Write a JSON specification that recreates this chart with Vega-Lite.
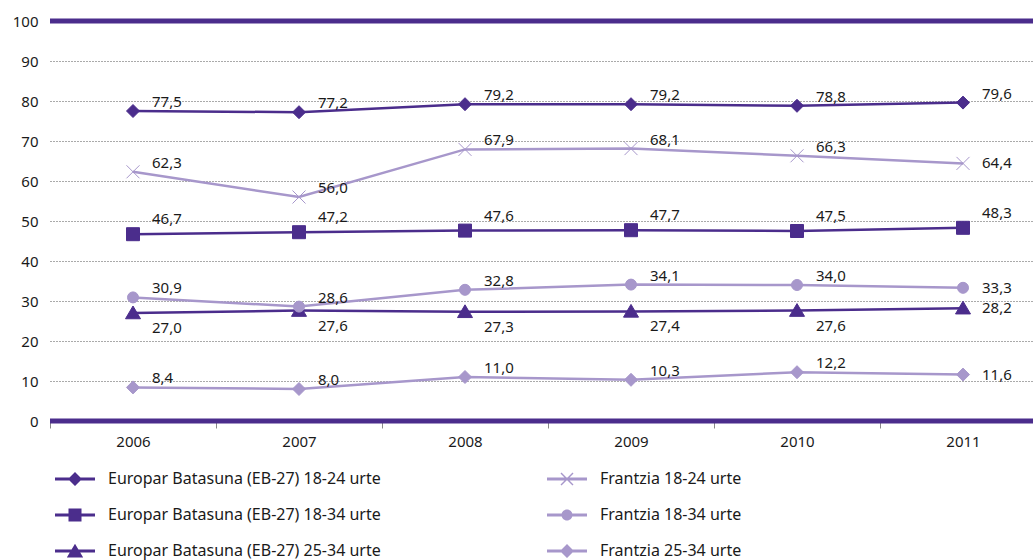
{
  "$schema": "https://vega.github.io/schema/vega-lite/v6.json",
  "width": 983,
  "height": 400,
  "autosize": {"type": "none"},
  "padding": {"left": 50, "top": 21, "right": 0, "bottom": 139},
  "config": {
    "locale": {"number": {"decimal": ",", "thousands": ".", "grouping": [3], "currency": ["", " €"]}},
    "view": {"stroke": null},
    "font": "Noto Sans"
  },
  "data": {
    "values": [
      {"s": "Europar Batasuna (EB-27) 18-24 urte", "year": 2006, "value": 77.5},
      {"s": "Europar Batasuna (EB-27) 18-24 urte", "year": 2007, "value": 77.2},
      {"s": "Europar Batasuna (EB-27) 18-24 urte", "year": 2008, "value": 79.2},
      {"s": "Europar Batasuna (EB-27) 18-24 urte", "year": 2009, "value": 79.2},
      {"s": "Europar Batasuna (EB-27) 18-24 urte", "year": 2010, "value": 78.8},
      {"s": "Europar Batasuna (EB-27) 18-24 urte", "year": 2011, "value": 79.6},
      {"s": "Europar Batasuna (EB-27) 18-34 urte", "year": 2006, "value": 46.7},
      {"s": "Europar Batasuna (EB-27) 18-34 urte", "year": 2007, "value": 47.2},
      {"s": "Europar Batasuna (EB-27) 18-34 urte", "year": 2008, "value": 47.6},
      {"s": "Europar Batasuna (EB-27) 18-34 urte", "year": 2009, "value": 47.7},
      {"s": "Europar Batasuna (EB-27) 18-34 urte", "year": 2010, "value": 47.5},
      {"s": "Europar Batasuna (EB-27) 18-34 urte", "year": 2011, "value": 48.3},
      {"s": "Europar Batasuna (EB-27) 25-34 urte", "year": 2006, "value": 27.0},
      {"s": "Europar Batasuna (EB-27) 25-34 urte", "year": 2007, "value": 27.6},
      {"s": "Europar Batasuna (EB-27) 25-34 urte", "year": 2008, "value": 27.3},
      {"s": "Europar Batasuna (EB-27) 25-34 urte", "year": 2009, "value": 27.4},
      {"s": "Europar Batasuna (EB-27) 25-34 urte", "year": 2010, "value": 27.6},
      {"s": "Europar Batasuna (EB-27) 25-34 urte", "year": 2011, "value": 28.2},
      {"s": "Frantzia 18-24 urte", "year": 2006, "value": 62.3},
      {"s": "Frantzia 18-24 urte", "year": 2007, "value": 56.0},
      {"s": "Frantzia 18-24 urte", "year": 2008, "value": 67.9},
      {"s": "Frantzia 18-24 urte", "year": 2009, "value": 68.1},
      {"s": "Frantzia 18-24 urte", "year": 2010, "value": 66.3},
      {"s": "Frantzia 18-24 urte", "year": 2011, "value": 64.4},
      {"s": "Frantzia 18-34 urte", "year": 2006, "value": 30.9},
      {"s": "Frantzia 18-34 urte", "year": 2007, "value": 28.6},
      {"s": "Frantzia 18-34 urte", "year": 2008, "value": 32.8},
      {"s": "Frantzia 18-34 urte", "year": 2009, "value": 34.1},
      {"s": "Frantzia 18-34 urte", "year": 2010, "value": 34.0},
      {"s": "Frantzia 18-34 urte", "year": 2011, "value": 33.3},
      {"s": "Frantzia 25-34 urte", "year": 2006, "value": 8.4},
      {"s": "Frantzia 25-34 urte", "year": 2007, "value": 8.0},
      {"s": "Frantzia 25-34 urte", "year": 2008, "value": 11.0},
      {"s": "Frantzia 25-34 urte", "year": 2009, "value": 10.3},
      {"s": "Frantzia 25-34 urte", "year": 2010, "value": 12.2},
      {"s": "Frantzia 25-34 urte", "year": 2011, "value": 11.6}
    ]
  },
  "encoding": {
    "x": {
      "field": "year", "type": "ordinal",
      "scale": {"type": "band", "paddingInner": 0, "paddingOuter": 0, "range": [0, 996]},
      "axis": {"title": null, "labelAngle": 0, "domain": false, "tickBand": "extent", "tickSize": 7, "tickColor": "#888888", "labelFontSize": 15, "labelColor": "#1a1a1a", "labelPadding": 6, "grid": false}
    },
    "y": {
      "field": "value", "type": "quantitative",
      "scale": {"domain": [0, 100], "nice": false, "zero": true},
      "axis": {"title": null, "values": [0, 10, 20, 30, 40, 50, 60, 70, 80, 90, 100], "domain": false, "ticks": false, "labelPadding": 12, "labelFontSize": 15, "labelColor": "#1a1a1a", "gridDash": [1, 2], "gridColor": "#555555", "gridWidth": 1}
    }
  },
  "layer": [
    {
      "data": {"values": [{"value": 0}, {"value": 100}]},
      "mark": {"type": "rule", "color": "#4b2d8c", "strokeWidth": 5},
      "encoding": {"x": null, "y": {"field": "value", "type": "quantitative"}}
    },
    {
      "mark": {"type": "point", "filled": true, "size": 1, "opacity": 1},
      "encoding": {
        "color": {
          "field": "s", "type": "nominal",
          "scale": {
            "domain": ["Europar Batasuna (EB-27) 18-24 urte", "Europar Batasuna (EB-27) 18-34 urte", "Europar Batasuna (EB-27) 25-34 urte", "Frantzia 18-24 urte", "Frantzia 18-34 urte", "Frantzia 25-34 urte"],
            "range": ["#4b2d8c", "#4b2d8c", "#4b2d8c", "#a797cb", "#a797cb", "#a797cb"]
          },
          "legend": {
            "title": null, "orient": "none", "legendX": 15, "legendY": 448, "columns": 2, "columnPadding": 166, "rowPadding": 18, "padding": 0,
            "symbolSize": 400, "symbolStrokeWidth": 0, "symbolOpacity": 1, "labelFontSize": 16, "labelColor": "#1a1a1a", "labelOffset": 23, "labelLimit": 400
          }
        },
        "shape": {
          "field": "s", "type": "nominal",
          "legend": {"title": null},
          "scale": {
            "domain": ["Europar Batasuna (EB-27) 18-24 urte", "Europar Batasuna (EB-27) 18-34 urte", "Europar Batasuna (EB-27) 25-34 urte", "Frantzia 18-24 urte", "Frantzia 18-34 urte", "Frantzia 25-34 urte"],
            "range": [
              "M-2,-0.15H2V0.15H-2ZM0,-0.7L0.7,0L0,0.7L-0.7,0Z",
              "M-2,-0.15H2V0.15H-2ZM-0.65,-0.65H0.65V0.65H-0.65Z",
              "M-2,-0.15H2V0.15H-2ZM0,-0.72L0.82,0.66L-0.82,0.66Z",
              "M-2,-0.15H2V0.15H-2ZM-0.55,-0.65L0.65,0.55L0.55,0.65L-0.65,-0.55ZM0.65,-0.55L-0.55,0.65L-0.65,0.55L0.55,-0.65Z",
              "M-2,-0.15H2V0.15H-2ZM-0.55,0A0.55,0.55 0 1,1 0.55,0A0.55,0.55 0 1,1 -0.55,0Z",
              "M-2,-0.15H2V0.15H-2ZM0,-0.7L0.7,0L0,0.7L-0.7,0Z"
            ]
          }
        }
      }
    },
    {
      "mark": {"type": "line", "strokeWidth": 2.5},
      "encoding": {
        "stroke": {
          "field": "s", "type": "nominal", "legend": null,
          "scale": {
            "domain": ["Europar Batasuna (EB-27) 18-24 urte", "Europar Batasuna (EB-27) 18-34 urte", "Europar Batasuna (EB-27) 25-34 urte", "Frantzia 18-24 urte", "Frantzia 18-34 urte", "Frantzia 25-34 urte"],
            "range": ["#4b2d8c", "#4b2d8c", "#4b2d8c", "#a797cb", "#a797cb", "#a797cb"]
          }
        }
      }
    },
    {
      "transform": [{"filter": "datum.s === 'Europar Batasuna (EB-27) 18-24 urte' || datum.s === 'Frantzia 25-34 urte'"}],
      "mark": {"type": "point", "filled": true, "opacity": 1, "strokeWidth": 1, "size": 100, "shape": "M0,-1.3L1.3,0L0,1.3L-1.3,0Z"},
      "encoding": {"fill": {"field": "s", "type": "nominal", "legend": null}, "stroke": {"field": "s", "type": "nominal", "legend": null}}
    },
    {
      "transform": [{"filter": "datum.s === 'Europar Batasuna (EB-27) 18-34 urte'"}],
      "mark": {"type": "point", "filled": true, "opacity": 1, "strokeWidth": 1, "size": 100, "shape": "M-1.3,-1.3H1.3V1.3H-1.3Z"},
      "encoding": {"fill": {"field": "s", "type": "nominal", "legend": null}, "stroke": {"field": "s", "type": "nominal", "legend": null}}
    },
    {
      "transform": [{"filter": "datum.s === 'Europar Batasuna (EB-27) 25-34 urte'"}],
      "mark": {"type": "point", "filled": true, "opacity": 1, "strokeWidth": 1, "size": 100, "shape": "M0,-1.4L1.5,1.15L-1.5,1.15Z"},
      "encoding": {"fill": {"field": "s", "type": "nominal", "legend": null}, "stroke": {"field": "s", "type": "nominal", "legend": null}}
    },
    {
      "transform": [{"filter": "datum.s === 'Frantzia 18-24 urte'"}],
      "mark": {"type": "point", "filled": false, "opacity": 1, "strokeWidth": 1, "size": 100, "shape": "M-1.3,-1.3L1.3,1.3M-1.3,1.3L1.3,-1.3"},
      "encoding": {"stroke": {"field": "s", "type": "nominal", "legend": null}}
    },
    {
      "transform": [{"filter": "datum.s === 'Frantzia 18-34 urte'"}],
      "mark": {"type": "point", "filled": true, "opacity": 1, "strokeWidth": 1, "size": 100, "shape": "M-1.1,0A1.1,1.1 0 1,1 1.1,0A1.1,1.1 0 1,1 -1.1,0Z"},
      "encoding": {
        "fill": {
          "field": "s", "type": "nominal", "legend": null,
          "scale": {
            "domain": ["Europar Batasuna (EB-27) 18-24 urte", "Europar Batasuna (EB-27) 18-34 urte", "Europar Batasuna (EB-27) 25-34 urte", "Frantzia 18-24 urte", "Frantzia 18-34 urte", "Frantzia 25-34 urte"],
            "range": ["#4b2d8c", "#4b2d8c", "#4b2d8c", "#a797cb", "#a797cb", "#a797cb"]
          }
        },
        "stroke": {"field": "s", "type": "nominal", "legend": null}
      }
    },
    {
      "transform": [{"filter": "datum.s === 'Europar Batasuna (EB-27) 18-24 urte' || (datum.s !== 'Europar Batasuna (EB-27) 25-34 urte' && datum.s !== 'Europar Batasuna (EB-27) 18-34 urte' && datum.year !== 2011)"}],
      "mark": {"type": "text", "align": "left", "baseline": "middle", "dx": 19, "dy": -9, "fontSize": 15, "color": "#1a1a1a"},
      "encoding": {"text": {"field": "value", "type": "quantitative", "format": ".1f"}}
    },
    {
      "transform": [{"filter": "datum.s === 'Europar Batasuna (EB-27) 18-34 urte'"}],
      "mark": {"type": "text", "align": "left", "baseline": "middle", "dx": 19, "dy": -15, "fontSize": 15, "color": "#1a1a1a"},
      "encoding": {"text": {"field": "value", "type": "quantitative", "format": ".1f"}}
    },
    {
      "transform": [{"filter": "datum.s === 'Europar Batasuna (EB-27) 25-34 urte' && datum.year !== 2011"}],
      "mark": {"type": "text", "align": "left", "baseline": "middle", "dx": 19, "dy": 15, "fontSize": 15, "color": "#1a1a1a"},
      "encoding": {"text": {"field": "value", "type": "quantitative", "format": ".1f"}}
    },
    {
      "transform": [{"filter": "datum.year === 2011 && datum.s !== 'Europar Batasuna (EB-27) 18-24 urte' && datum.s !== 'Europar Batasuna (EB-27) 18-34 urte'"}],
      "mark": {"type": "text", "align": "left", "baseline": "middle", "dx": 19, "dy": 0, "fontSize": 15, "color": "#1a1a1a"},
      "encoding": {"text": {"field": "value", "type": "quantitative", "format": ".1f"}}
    }
  ]
}
